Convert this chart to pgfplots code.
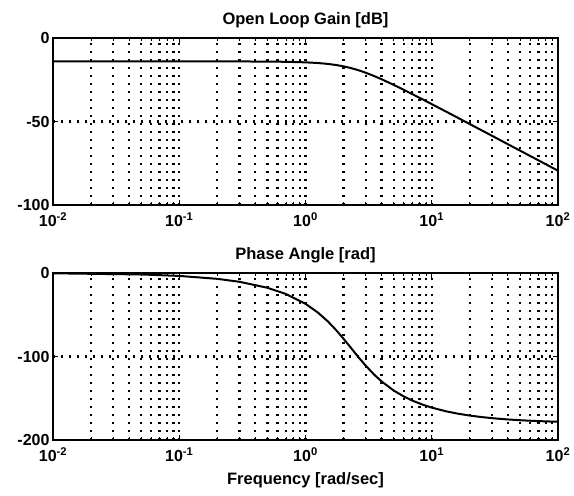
\documentclass[border=0pt]{standalone}
\usepackage{pgfplots}
\pgfplotsset{compat=1.18}
\usepackage{pgfplotstable}
\usepackage{fontspec}
\setmainfont{Liberation Sans}
\pgfplotstableread{
w gain phase
0.01 -14.00 -0.35
0.05 -14.00 -1.74
0.1 -14.00 -3.49
0.2 -14.02 -6.99
0.3 -14.04 -10.52
0.5 -14.12 -17.72
0.7 -14.25 -25.15
1 -14.57 -36.89
1.25 -14.97 -47.20
1.5 -15.50 -57.81
1.75 -16.18 -68.43
2 -16.97 -78.67
2.25 -17.86 -88.2
2.5 -18.81 -96.8
2.75 -19.80 -104.39
3 -20.80 -111.0
3.5 -22.78 -121.7
4 -24.67 -129.74
5 -28.08 -140.76
6 -31.01 -147.83
7 -33.57 -152.72
8.5 -36.83 -157.77
10 -39.60 -161.23
13 -44.09 -165.66
16 -47.67 -168.39
20 -51.53 -170.73
25 -55.39 -172.6
32 -59.67 -174.22
40 -63.56 -175.38
50 -67.42 -176.31
63 -71.43 -177.07
80 -75.58 -177.69
100 -79.46 -178.15
}\bodedata
\begin{document}
\begin{tikzpicture}
\useasboundingbox (-53pt,-291pt) rectangle (521pt,205pt);
\begin{axis}[at={(0pt,0pt)}, anchor=south west,
    scale only axis, width=505pt, height=167pt,
    xmode=log, xmin=0.01, xmax=100,
    xtick={0.01,0.1,1,10,100},
    xticklabels={10\textsuperscript{-2},10\textsuperscript{-1},10\textsuperscript{0},10\textsuperscript{1},10\textsuperscript{2}},
    minor xtick={0.02,0.03,0.04,0.05,0.06,0.07,0.08,0.09,0.2,0.3,0.4,0.5,0.6,0.7,0.8,0.9,2,3,4,5,6,7,8,9,20,30,40,50,60,70,80,90},
    xmajorgrids, xminorgrids, ymajorgrids,
    major grid style={black, line width=2.4pt, dash pattern=on 2pt off 6pt},
    minor grid style={black, line width=2.4pt, dash pattern=on 2pt off 6pt},
    axis line style={line width=1.6pt},
    tick style={black, line width=0.8pt},
    tick align=inside, major tick length=5pt, minor tick length=3pt,
    ticklabel style={font=\fontsize{16}{18}\selectfont\bfseries},
    xticklabel style={yshift=-4pt},
    title style={font=\fontsize{16.5}{18}\selectfont\bfseries, yshift=1pt},
    title={Open Loop Gain [dB]},
    ymin=-100, ymax=0, ytick={-100,-50,0}, yticklabels={-100,-50,0}]
\addplot[line width=2pt, black, no markers] table[x=w, y=gain] {\bodedata};
\end{axis}
\begin{axis}[at={(0pt,-235pt)}, anchor=south west,
    scale only axis, width=505pt, height=167pt,
    xmode=log, xmin=0.01, xmax=100,
    xtick={0.01,0.1,1,10,100},
    xticklabels={10\textsuperscript{-2},10\textsuperscript{-1},10\textsuperscript{0},10\textsuperscript{1},10\textsuperscript{2}},
    minor xtick={0.02,0.03,0.04,0.05,0.06,0.07,0.08,0.09,0.2,0.3,0.4,0.5,0.6,0.7,0.8,0.9,2,3,4,5,6,7,8,9,20,30,40,50,60,70,80,90},
    xmajorgrids, xminorgrids, ymajorgrids,
    major grid style={black, line width=2.4pt, dash pattern=on 2pt off 6pt},
    minor grid style={black, line width=2.4pt, dash pattern=on 2pt off 6pt},
    axis line style={line width=1.6pt},
    tick style={black, line width=0.8pt},
    tick align=inside, major tick length=5pt, minor tick length=3pt,
    ticklabel style={font=\fontsize{16}{18}\selectfont\bfseries},
    xticklabel style={yshift=-4pt},
    title style={font=\fontsize{16.5}{18}\selectfont\bfseries},
    xlabel style={font=\fontsize{16.5}{18}\selectfont\bfseries, yshift=-4pt},
    title={Phase Angle [rad]},
    xlabel={Frequency [rad/sec]},
    ymin=-200, ymax=0, ytick={-200,-100,0}, yticklabels={-200,-100,0}]
\addplot[line width=2pt, black, no markers] table[x=w, y=phase] {\bodedata};
\end{axis}
\end{tikzpicture}
\end{document}
